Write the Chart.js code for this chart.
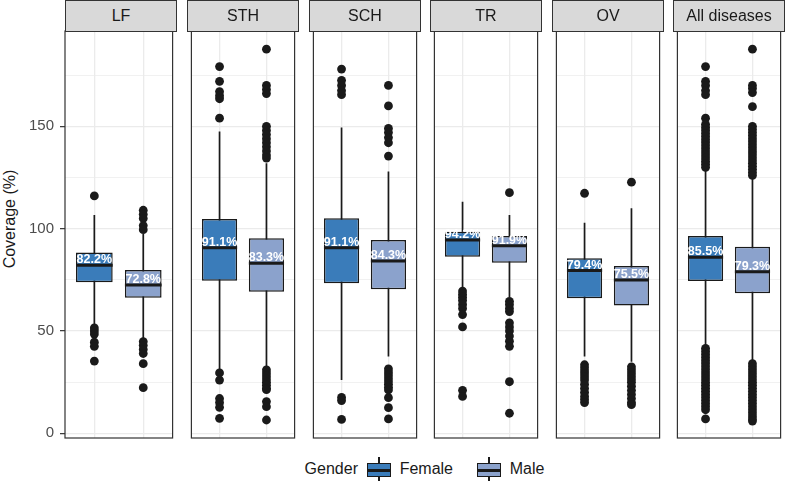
<!DOCTYPE html>
<html>
<head>
<meta charset="utf-8">
<script src="https://cdn.jsdelivr.net/npm/chart.js@4/dist/chart.umd.min.js"></script>
<style>
  body { margin: 0; background: #fff; font-family: "Liberation Sans", Arial, sans-serif; }
  #fig { position: relative; width: 785px; height: 484px; overflow: hidden; }
  #fig canvas { position: absolute; }
  .strip { position: absolute; top: 0; height: 32px; width: 112px; box-sizing: border-box;
           background: #d9d9d9; border: 1.2px solid #333; color: #1a1a1a; font-size: 16px;
           display: flex; align-items: center; justify-content: center; z-index: 2; }
  #ytitle { position: absolute; left: 9.5px; top: 219px; transform: translate(-50%, -50%) rotate(-90deg);
            font-size: 16px; color: #1a1a1a; white-space: nowrap; }
  #legend { position: absolute; left: 65px; width: 719px; top: 457px; height: 24px;
            display: flex; justify-content: center; align-items: center; font-size: 16px; color: #1a1a1a; }
  .key { position: relative; width: 24px; height: 24px; }
  .key .wh { position: absolute; left: 11.2px; top: 0; width: 1.6px; height: 24px; background: #1a1a1a; }
  .key .bx { position: absolute; left: 0; top: 6px; width: 24px; height: 14px; box-sizing: border-box; border: 1.5px solid #1a1a1a; }
  .key .md { position: absolute; left: 0; top: 11.5px; width: 24px; height: 3px; background: #1a1a1a; }
</style>
</head>
<body>
<div id="fig">
  <div id="ytitle">Coverage (%)</div>
  <div id="legend">
    <span style="margin-right:9px">Gender</span>
    <div class="key"><div class="wh"></div><div class="bx" style="background:#3a7cba"></div><div class="md"></div></div>
    <span style="margin-left:8.7px;margin-right:24px">Female</span>
    <div class="key"><div class="wh"></div><div class="bx" style="background:#8ba2cc"></div><div class="md"></div></div>
    <span style="margin-left:8.7px">Male</span>
  </div>
</div>
<script>
const diseases = ['LF', 'STH', 'SCH', 'TR', 'OV', 'All diseases'];
const yTicks = [0, 25, 50, 75, 100, 125, 150, 175];

// box stats: female
const femaleQ1 = [73.8, 74.6, 73.3, 86.3, 66.0, 74.4];
const femaleQ3 = [88.3, 104.7, 105.1, 98.5, 85.5, 96.4];
const femaleMedian = [82.1, 90.7, 90.7, 94.5, 79.5, 86.0];
const femaleLow = [53, 30, 26, 71, 37.5, 42.3];
const femaleHigh = [106.7, 147.5, 149.4, 113.2, 102.9, 128.7];
const femaleLabel = ['82.2%', '91.1%', '91.1%', '94.2%', '79.4%', '85.5%'];
const femaleOutliers = [
  [116, 51.5, 50, 48.5, 44.5, 42.5, 35.3],
  [179.2, 172, 167, 165, 163.5, 154, 29.5, 26, 17, 15, 12.7, 7.3],
  [178, 172.5, 170, 167.5, 165.5, 17.5, 16, 6.8],
  [69.5, 68, 66.5, 65, 63, 61, 58, 52, 21, 18],
  [117.3, 33.5, 32, 30.5, 29, 27.5, 26, 24, 22, 20, 18, 16.5, 15],
  [179.2, 172, 170, 167.5, 165.5, 154, 151, 149.5, 148, 146.5, 145, 143.5, 142, 140.5, 139, 137.5, 136, 134.5, 133, 131.5, 130,
   41.5, 40, 38.5, 37, 35.5, 34, 32.5, 31, 29.5, 28, 26.5, 25, 23.5, 22, 20.5, 19, 17.5, 16, 14.5, 13, 11.5, 7]
];

// male
const maleQ1 = [66.3, 69.2, 70.4, 83.4, 62.4, 68.4];
const maleQ3 = [79.8, 95.3, 94.5, 96.4, 81.8, 91.2];
const maleMedian = [72.5, 83.1, 84.2, 91.7, 74.9, 79.0];
const maleLow = [46.6, 31.8, 37.5, 66.5, 35, 35];
const maleHigh = [97.4, 132, 127.9, 106.7, 110, 124.6];
const maleLabel = ['72.8%', '83.3%', '84.3%', '91.9%', '75.5%', '79.3%'];
const maleOutliers = [
  [109, 107, 105, 101.5, 99.5, 44.8, 43, 41, 39, 34, 22.3],
  [187.7, 170, 168, 166, 150, 148, 146, 144, 142, 140, 138, 136, 134.5,
   31, 29.5, 28, 26.5, 25, 23.5, 22, 21.3, 15.5, 13, 6.5],
  [170, 160, 149, 147, 144.5, 142, 135.5, 31.5, 30, 28.5, 27, 25.5, 24, 22.5, 21.2, 17.4, 12.5, 7],
  [117.6, 64.5, 63, 61, 59.5, 54, 52, 50, 47.5, 45, 42.5, 25.2, 9.8],
  [122.7, 32.5, 31, 29.5, 28, 26.5, 25, 23, 21, 19, 17, 15, 14],
  [187.7, 170, 168.5, 166.5, 159.6, 150, 148.5, 147, 145.5, 144, 142.5, 141, 139.5, 138, 136.5, 135, 133.5, 132, 130.5, 129, 127.5, 126,
   34, 32.5, 31, 29.5, 28, 26.5, 25, 23.5, 22, 20.5, 19, 17.5, 16, 14.5, 13, 11.5, 10, 8.5, 7, 6]
];

const FEMALE = '#3a7cba';
const MALE = '#8ba2cc';
const INK = '#1a1a1a';
const FONT = '"Liberation Sans", Arial, sans-serif';

// draws median bars + labels and the panel frame
const boxExtras = {
  id: 'boxExtras',
  afterDatasetsDraw(chart, args, opts) {
    const ys = chart.scales.y, ctx = chart.ctx;
    const bars = chart.getDatasetMeta(2).data;
    ctx.save();
    opts.items.forEach((it, j) => {
      const bar = bars[j];
      const yc = ys.getPixelForValue(it.median);
      ctx.strokeStyle = INK;
      ctx.lineWidth = 3;
      ctx.beginPath();
      ctx.moveTo(bar.x - bar.width / 2, yc);
      ctx.lineTo(bar.x + bar.width / 2, yc);
      ctx.stroke();
      ctx.fillStyle = '#fff';
      ctx.font = 'bold 12.5px ' + FONT;
      ctx.textAlign = 'center';
      ctx.textBaseline = 'alphabetic';
      ctx.fillText(it.label, bar.x, yc - 2);
    });
    const a = chart.chartArea;
    ctx.strokeStyle = '#333';
    ctx.lineWidth = 1.2;
    ctx.strokeRect(a.left, a.top, a.right - a.left, a.bottom - a.top);
    ctx.restore();
  }
};

const fig = document.getElementById('fig');

diseases.forEach((name, i) => {
  const panelLeft = Math.round(65.3 + i * 121.6);
  const first = i === 0;

  const strip = document.createElement('div');
  strip.className = 'strip';
  strip.style.left = panelLeft + 'px';
  strip.textContent = name;
  fig.appendChild(strip);

  const cv = document.createElement('canvas');
  const w = first ? panelLeft + 112 : 112;
  cv.width = w; cv.height = 447;
  cv.style.left = (first ? 0 : panelLeft) + 'px';
  cv.style.top = '11px';
  fig.appendChild(cv);

  const outliers = femaleOutliers[i].map(v => ({ x: 1, y: v }))
    .concat(maleOutliers[i].map(v => ({ x: 2, y: v })));

  new Chart(cv, {
    type: 'bar',
    data: {
      datasets: [
        { type: 'line', data: [{ x: 1, y: femaleLow[i] }, { x: 1, y: femaleHigh[i] }],
          borderColor: INK, borderWidth: 1.7, pointRadius: 0, order: 3 },
        { type: 'line', data: [{ x: 2, y: maleLow[i] }, { x: 2, y: maleHigh[i] }],
          borderColor: INK, borderWidth: 1.7, pointRadius: 0, order: 3 },
        { type: 'bar',
          data: [{ x: 1, y: [femaleQ1[i], femaleQ3[i]] }, { x: 2, y: [maleQ1[i], maleQ3[i]] }],
          backgroundColor: [FEMALE, MALE], borderColor: INK, borderWidth: 1.5, borderSkipped: false,
          categoryPercentage: 1, barPercentage: 0.75, order: 2 },
        { type: 'scatter', data: outliers, pointRadius: 4.4, pointBackgroundColor: INK,
          pointBorderWidth: 0, order: 1 }
      ]
    },
    options: {
      responsive: false,
      animation: false,
      events: [],
      layout: { padding: { top: 20, left: 0, right: 0, bottom: 0 } },
      plugins: {
        legend: { display: false },
        tooltip: { enabled: false },
        boxExtras: { items: [
          { median: femaleMedian[i], label: femaleLabel[i] },
          { median: maleMedian[i], label: maleLabel[i] }
        ] }
      },
      scales: {
        x: {
          type: 'linear', min: 0.4, max: 2.6, offset: false,
          afterBuildTicks: s => { s.ticks = [1, 2].map(v => ({ value: v })); },
          afterFit: s => { s.height = 20; },
          ticks: { display: false },
          border: { display: false },
          grid: { color: '#ebebeb', lineWidth: 1.3, drawTicks: false, offset: false }
        },
        y: {
          type: 'linear', min: -2.3, max: 196.6,
          afterBuildTicks: s => { s.ticks = yTicks.map(v => ({ value: v })); },
          afterFit: s => { s.width = first ? panelLeft : 0; },
          border: { display: false },
          grid: {
            color: '#ebebeb',
            lineWidth: c => (c.tick && c.tick.value % 50 === 0) ? 1.3 : 0.7,
            drawTicks: first,
            tickLength: 5,
            tickWidth: 1.2,
            tickColor: c => (c.tick && c.tick.value % 50 === 0) ? '#333' : 'rgba(0,0,0,0)'
          },
          ticks: {
            display: first, padding: 6, color: '#4d4d4d',
            font: { size: 15, family: FONT },
            callback: v => v % 50 === 0 ? v : ''
          }
        }
      }
    },
    plugins: [boxExtras]
  });
});
</script>
</body>
</html>
